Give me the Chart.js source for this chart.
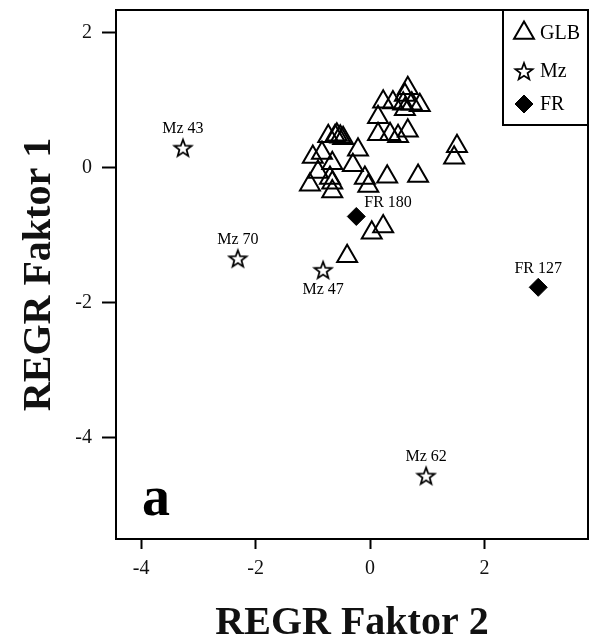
<!DOCTYPE html>
<html>
<head>
<meta charset="utf-8">
<script src="https://cdn.jsdelivr.net/npm/chart.js@4"></script>
<style>
  html, body { margin: 0; padding: 0; background: #fff; overflow: hidden; }
  #wrap { width: 590px; height: 644px; }
  #chart-factors { display: block; }
</style>
</head>
<body>
<div id="wrap"><canvas id="chart-factors"></canvas></div>
<script>
// GLB samples (REGR Faktor 2 -> x, REGR Faktor 1 -> y)
const glbX = [0.66, 0.61, 0.23, 0.40, 0.58, 0.73, 0.87, 0.61, 0.14, 0.14, 0.35, 0.49, 0.66,
              -0.73, -0.61, -0.52, -0.47, -0.58, -0.21, -1.00, -0.84, -0.66, -0.30, -0.91,
              -1.05, -0.70, -0.66, -0.66, -0.09, -0.03, 0.30, 0.84, 1.52, 1.47, 0.23, 0.03, -0.40];
const glbY = [1.18, 1.08, 0.98, 0.97, 0.95, 0.95, 0.93, 0.87, 0.75, 0.50, 0.50, 0.47, 0.55,
              0.47, 0.47, 0.46, 0.44, 0.49, 0.27, 0.16, 0.22, 0.07, 0.04, -0.06,
              -0.25, -0.15, -0.22, -0.35, -0.15, -0.27, -0.13, -0.12, 0.32, 0.15, -0.87, -0.96, -1.31];

// Mz samples
const mzNames = ['Mz 43', 'Mz 70', 'Mz 47', 'Mz 62'];
const mzX = [-3.27, -2.31, -0.82, 0.98];
const mzY = [0.30, -1.34, -1.51, -4.56];

// FR samples
const frNames = ['FR 180', 'FR 127'];
const frX = [-0.24, 2.94];
const frY = [-0.72, -1.77];

const xTicks = [-4, -2, 0, 2];
const yTicks = [2, 0, -2, -4];

const serif = '"Liberation Serif", "Times New Roman", serif';

// where the name goes relative to its marker
const labelPlace = { 'Mz 47': 'below', 'FR 180': 'right' };

function toPoints(xs, ys) {
    return xs.map((x, i) => ({ x: x, y: ys[i] }));
}

// outline five-pointed star used as point style
function makeStar(size) {
    const c = document.createElement('canvas');
    c.width = size; c.height = size;
    const g = c.getContext('2d');
    const cx = size / 2, cy = size / 2 + 1;
    const outer = size / 2 - 2, inner = outer * 0.42;
    g.beginPath();
    for (let i = 0; i < 10; i++) {
        const r = i % 2 === 0 ? outer : inner;
        const a = -Math.PI / 2 + i * Math.PI / 5;
        g.lineTo(cx + r * Math.cos(a), cy + r * Math.sin(a));
    }
    g.closePath();
    g.fillStyle = '#fff';
    g.fill();
    g.lineWidth = 1.8;
    g.strokeStyle = '#000';
    g.lineJoin = 'miter';
    g.stroke();
    return c;
}
const starImg = makeStar(22);

/**
 * frame, legend box, point names and panel letter
 */
const decorPlugin = {
    id: 'decor',
    afterDatasetsDraw(chart) {
        const ctx = chart.ctx;
        const a = chart.chartArea;
        ctx.save();

        // names next to Mz and FR points
        ctx.font = '16px ' + serif;
        ctx.fillStyle = '#000';
        [[1, mzNames], [2, frNames]].forEach(([di, names]) => {
            chart.getDatasetMeta(di).data.forEach((pt, i) => {
                const name = names[i];
                const place = labelPlace[name];
                if (place === 'below') {
                    ctx.textAlign = 'center';
                    ctx.textBaseline = 'middle';
                    ctx.fillText(name, pt.x, pt.y + 20);
                } else if (place === 'right') {
                    ctx.textAlign = 'left';
                    ctx.textBaseline = 'middle';
                    ctx.fillText(name, pt.x + 8, pt.y - 14);
                } else {
                    ctx.textAlign = 'center';
                    ctx.textBaseline = 'middle';
                    ctx.fillText(name, pt.x, pt.y - 19);
                }
            });
        });

        // panel letter
        ctx.font = 'bold 56px ' + serif;
        ctx.textAlign = 'left';
        ctx.textBaseline = 'alphabetic';
        ctx.fillText('a', a.left + 26, a.bottom - 24);

        // legend box
        const bx = a.right - 85, by = a.top, bw = 85, bh = 115;
        ctx.fillStyle = '#fff';
        ctx.fillRect(bx, by, bw, bh);
        ctx.lineWidth = 2;
        ctx.strokeStyle = '#000';
        ctx.strokeRect(bx, by, bw, bh);

        const rows = [
            { text: 'GLB', y: by + 23, ds: chart.data.datasets[0] },
            { text: 'Mz', y: by + 61, ds: chart.data.datasets[1] },
            { text: 'FR', y: by + 94, ds: chart.data.datasets[2] }
        ];
        rows.forEach(r => {
            ctx.fillStyle = r.ds.backgroundColor;
            ctx.strokeStyle = r.ds.borderColor;
            ctx.lineWidth = r.ds.borderWidth;
            Chart.helpers.drawPoint(ctx, {
                pointStyle: r.ds.pointStyle,
                radius: r.ds.pointRadius,
                borderWidth: r.ds.borderWidth,
                rotation: 0
            }, bx + 21, r.y);
            ctx.fillStyle = '#000';
            ctx.font = '20px ' + serif;
            ctx.textAlign = 'left';
            ctx.textBaseline = 'middle';
            ctx.fillText(r.text, bx + 37, r.y + 1);
        });

        // plot frame
        ctx.lineWidth = 2;
        ctx.strokeStyle = '#000';
        ctx.strokeRect(a.left, a.top, a.right - a.left, a.bottom - a.top);
        ctx.restore();
    }
};

const ctx = document.getElementById('chart-factors').getContext('2d');
const chartFactors = new Chart(ctx, {
    type: 'scatter',
    plugins: [decorPlugin],
    data: {
        datasets: [
            {
                label: 'GLB',
                data: toPoints(glbX, glbY),
                pointStyle: 'triangle',
                pointRadius: 11.5,
                borderWidth: 2,
                borderColor: '#000',
                backgroundColor: 'rgba(0,0,0,0)'
            },
            {
                label: 'Mz',
                data: toPoints(mzX, mzY),
                pointStyle: starImg,
                pointRadius: 11,
                borderWidth: 1.8,
                borderColor: '#000',
                backgroundColor: '#fff'
            },
            {
                label: 'FR',
                data: toPoints(frX, frY),
                pointStyle: 'rectRot',
                pointRadius: 9,
                borderWidth: 1,
                borderColor: '#000',
                backgroundColor: '#000'
            }
        ]
    },
    options: {
        responsive: true,
        maintainAspectRatio: false,
        animation: false,
        layout: { autoPadding: false, padding: { top: 10, right: 2, left: 0, bottom: 0 } },
        plugins: {
            legend: { display: false },
            tooltip: { enabled: false }
        },
        scales: {
            x: {
                type: 'linear',
                min: -4.44,
                max: 3.81,
                afterBuildTicks: s => { s.ticks = xTicks.map(v => ({ value: v })); },
                afterFit: s => {
                    s.height = 105;
                    s.paddingLeft = 0;
                    s.paddingRight = 0;
                },
                grid: {
                    drawOnChartArea: false,
                    drawTicks: true,
                    tickLength: 10,
                    tickWidth: 2,
                    tickColor: '#000'
                },
                border: { display: true, color: '#000', width: 2 },
                ticks: {
                    color: '#111',
                    padding: 8,
                    maxRotation: 0,
                    font: { family: serif, size: 20 }
                },
                title: {
                    display: true,
                    text: 'REGR Faktor 2',
                    color: '#111',
                    font: { family: serif, size: 40, weight: 'bold', lineHeight: 1.0 },
                    padding: { top: 0, bottom: 0 }
                }
            },
            y: {
                type: 'linear',
                min: -5.50,
                max: 2.34,
                afterBuildTicks: s => { s.ticks = yTicks.map(v => ({ value: v })); },
                afterFit: s => {
                    s.width = 116;
                    s.paddingTop = 0;
                    s.paddingBottom = 0;
                },
                grid: {
                    drawOnChartArea: false,
                    drawTicks: true,
                    tickLength: 14,
                    tickWidth: 2,
                    tickColor: '#000'
                },
                border: { display: true, color: '#000', width: 2 },
                ticks: {
                    color: '#111',
                    padding: 10,
                    font: { family: serif, size: 20 }
                },
                title: {
                    display: true,
                    text: 'REGR Faktor 1',
                    color: '#111',
                    font: { family: serif, size: 40, weight: 'bold', lineHeight: 1.0 },
                    padding: { top: 20, bottom: 0 }
                }
            }
        }
    }
});
</script>
</body>
</html>
